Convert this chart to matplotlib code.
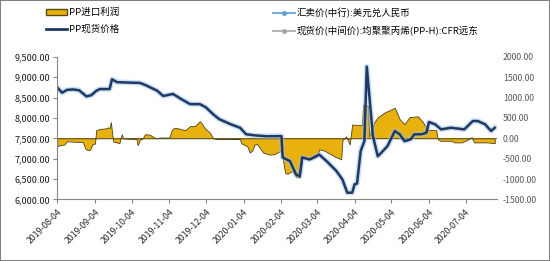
import matplotlib
matplotlib.use("Agg")
import matplotlib.pyplot as plt
import matplotlib.dates as mdates
from matplotlib.lines import Line2D
from matplotlib.patches import Patch
import pandas as pd

plt.rcParams["font.family"] = ["Noto Sans CJK SC", "DejaVu Sans"]

# PP现货价格 (left axis)
price_dates = [
    "2019-08-04", "2019-08-08", "2019-08-12", "2019-08-17", "2019-08-22", "2019-08-28",
    "2019-09-01", "2019-09-05", "2019-09-08", "2019-09-16", "2019-09-18", "2019-09-22",
    "2019-10-01", "2019-10-11", "2019-10-16", "2019-10-25", "2019-10-30", "2019-11-07",
    "2019-11-14", "2019-11-21", "2019-11-29", "2019-12-04", "2019-12-10", "2019-12-15",
    "2019-12-24", "2020-01-01", "2020-01-06", "2020-01-14", "2020-01-23", "2020-02-04",
    "2020-02-05", "2020-02-11", "2020-02-16", "2020-02-19", "2020-02-21", "2020-02-27",
    "2020-03-06", "2020-03-12", "2020-03-20", "2020-03-25", "2020-03-29", "2020-04-02",
    "2020-04-04", "2020-04-06", "2020-04-09", "2020-04-12", "2020-04-14", "2020-04-19",
    "2020-04-23", "2020-04-26", "2020-05-01", "2020-05-07", "2020-05-11", "2020-05-15",
    "2020-05-20", "2020-05-23", "2020-05-29", "2020-06-02", "2020-06-04", "2020-06-09",
    "2020-06-14", "2020-06-22", "2020-07-03", "2020-07-10", "2020-07-14", "2020-07-20",
    "2020-07-25", "2020-07-28",
]
price_values = [
    8750, 8620, 8690, 8700, 8680, 8530,
    8560, 8665, 8710, 8710, 8950, 8880,
    8870, 8860, 8800, 8670, 8540, 8590,
    8460, 8340, 8340, 8260, 8090, 7970,
    7850, 7760, 7600, 7570, 7550, 7555,
    7030, 6940, 6610, 6570, 7030, 6980,
    7100, 6940, 6700, 6490, 6165, 6165,
    6370, 6390, 7190, 7430, 9260, 7560,
    7060, 7150, 7310, 7680, 7600, 7430,
    7475, 7600, 7600, 7640, 7900, 7845,
    7720, 7760, 7720, 7925, 7925, 7845,
    7680, 7760,
]

# PP进口利润 (right axis)
profit_dates = [
    "2019-08-04", "2019-08-06", "2019-08-10", "2019-08-12", "2019-08-16", "2019-08-25",
    "2019-08-27", "2019-08-29", "2019-08-31", "2019-09-02", "2019-09-04", "2019-09-05",
    "2019-09-08", "2019-09-12", "2019-09-15", "2019-09-16", "2019-09-17", "2019-09-18",
    "2019-09-19", "2019-09-22", "2019-09-24", "2019-09-25", "2019-09-26", "2019-09-27",
    "2019-10-03", "2019-10-08", "2019-10-09", "2019-10-11", "2019-10-13", "2019-10-15",
    "2019-10-19", "2019-10-21", "2019-10-24", "2019-10-27", "2019-11-04", "2019-11-06",
    "2019-11-08", "2019-11-12", "2019-11-17", "2019-11-21", "2019-11-25", "2019-11-29",
    "2019-12-01", "2019-12-03", "2019-12-07", "2019-12-10", "2019-12-15", "2019-12-24",
    "2020-01-01", "2020-01-02", "2020-01-07", "2020-01-09", "2020-01-11", "2020-01-13",
    "2020-01-15", "2020-01-20", "2020-01-25", "2020-01-29", "2020-02-04", "2020-02-07",
    "2020-02-09", "2020-02-13", "2020-02-16", "2020-02-19", "2020-02-21", "2020-02-22",
    "2020-02-27", "2020-03-04", "2020-03-06", "2020-03-10", "2020-03-19", "2020-03-24",
    "2020-03-25", "2020-03-28", "2020-03-31", "2020-04-02", "2020-04-10", "2020-04-11",
    "2020-04-15", "2020-04-16", "2020-04-20", "2020-04-23", "2020-04-29", "2020-05-07",
    "2020-05-11", "2020-05-15", "2020-05-19", "2020-05-26", "2020-05-30", "2020-06-03",
    "2020-06-10", "2020-06-11", "2020-06-13", "2020-06-22", "2020-06-25", "2020-07-01",
    "2020-07-06", "2020-07-09", "2020-07-11", "2020-07-22", "2020-07-28",
]
profit_values = [
    -200, -170, -150, -70, -80, -90,
    -250, -290, -280, -140, -130, 200,
    230, 240, 270, 250, 400, 150,
    -80, -100, -120, 0, 100, 0,
    -10, -10, -170, -30, 0, 100,
    90, 50, 0, 20, 20, 200,
    260, 240, 200, 300, 300, 420,
    350, 250, 150, 0, -20, -10,
    -20, -120, -200, -350, -300, -150,
    -140, -350, -400, -390, -300, -850,
    -870, -800, -950, -960, -480, -440,
    -520, -450, -270, -300, -450, -515,
    -50, 50, -150, 340, 320, 830,
    800, 50, 385, 520, 640, 750,
    470, 350, 520, 540, 400, 210,
    200, 0, -60, -60, -100, -100,
    -30, 30, -100, -100, -120,
]

tick_dates = pd.date_range("2019-08-01", "2020-07-01", freq="MS") + pd.Timedelta(days=3)
legend_labels = ["PP进口利润", "PP现货价格",
                 "汇卖价(中行):美元兑人民币", "现货价(中间价):均聚聚丙烯(PP-H):CFR远东"]

pd_price = pd.to_datetime(price_dates)
pd_profit = pd.to_datetime(profit_dates)

fig = plt.figure(figsize=(5.5, 2.61), dpi=100)
fig.patch.set_edgecolor("#7f7f7f")
fig.patch.set_linewidth(1.2)
ax = fig.add_axes([0.104, 0.236, 0.800, 0.546])
ax2 = ax.twinx()

gold = "#E8B10E"
ax2.fill_between(pd_profit, 0, profit_values, color=gold, edgecolor="#4d4216",
                 linewidth=0.6)
ax2.axhline(0, color="#6b5a1e", lw=0.6)

ax.set_zorder(ax2.get_zorder() + 1)
ax.patch.set_visible(False)
ax.plot(pd_price, price_values, color="#9dc3e6", lw=4.0, alpha=0.5)
ax.plot(pd_price, price_values, color="#1f3864", lw=1.8)

ax.set_ylim(6000, 9500)
ax.set_yticks(range(6000, 9501, 500))
ax.yaxis.set_major_formatter(plt.FuncFormatter(lambda v, p: f"{v:,.2f}"))
ax2.set_ylim(-1500, 2000)
ax2.set_yticks(range(-1500, 2001, 500))
ax2.yaxis.set_major_formatter(plt.FuncFormatter(lambda v, p: f"{v:.2f}"))

ax.set_xlim(pd.Timestamp("2019-08-04"), pd.Timestamp("2020-07-30"))
ax.set_xticks(tick_dates)
ax.xaxis.set_major_formatter(mdates.DateFormatter("%Y-%m-%d"))
for lbl in ax.get_xticklabels():
    lbl.set_rotation(45)
    lbl.set_ha("right")
    lbl.set_rotation_mode("anchor")

ax.tick_params(axis="x", labelsize=6.3, colors="#262626", length=3, width=0.8,
               color="#868686", pad=3)
ax.tick_params(axis="y", labelsize=6.5, colors="#1a1a1a", length=3, width=0.8,
               color="#868686", pad=2)
ax2.tick_params(axis="y", labelsize=6.3, colors="#595959", length=0, pad=4)

for a in (ax, ax2):
    for s in ("top", "right", "left", "bottom"):
        a.spines[s].set_visible(False)
ax.spines["left"].set_visible(True)
ax.spines["bottom"].set_visible(True)
ax.spines["left"].set_color("#868686")
ax.spines["bottom"].set_color("#868686")

h1 = [Patch(facecolor=gold, edgecolor="#5a4a10"),
      Line2D([], [], color="#1f3864", lw=2)]
h2 = [Line2D([], [], color="#5b9bd5", lw=1.2, marker="o", markersize=2.5),
      Line2D([], [], color="#a5a5a5", lw=1.2, marker="o", markersize=2.5)]
kw = dict(frameon=False, fontsize=6.8, handlelength=2.3, handletextpad=0.2,
          labelspacing=0.8, borderaxespad=0, borderpad=0)
fig.legend(h1, legend_labels[:2], loc="upper left", bbox_to_anchor=(0.083, 0.97), **kw)
fig.legend(h2, legend_labels[2:], loc="upper left", bbox_to_anchor=(0.497, 0.97), **kw)

fig.savefig("out.png", dpi=100, edgecolor=fig.get_edgecolor())
